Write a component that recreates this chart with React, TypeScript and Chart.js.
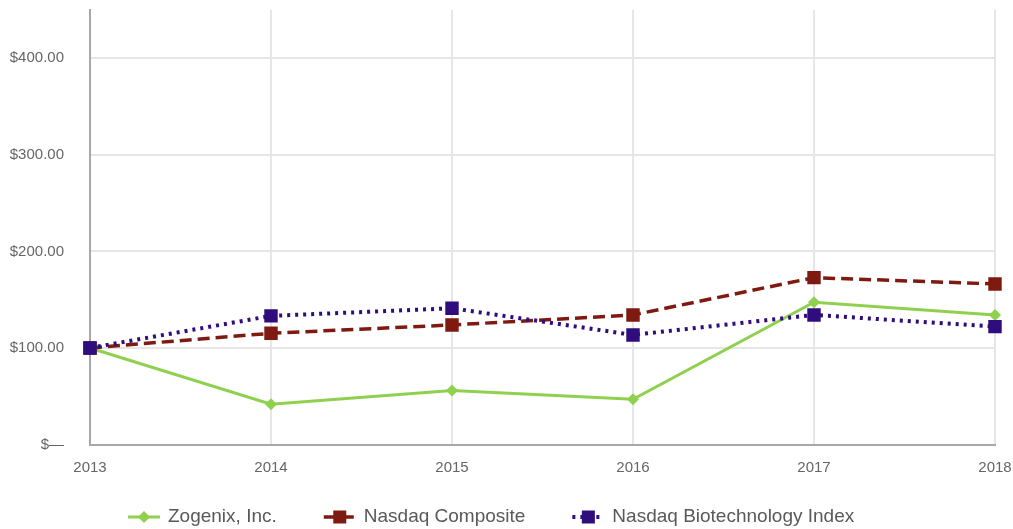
import React, { useEffect, useRef } from "react";
import { Chart, registerables } from "chart.js";

Chart.register(...registerables);

const years = ["2013", "2014", "2015", "2016", "2017", "2018"];
const zogenix = [100, 41.7, 55.8, 46.8, 147.4, 134.2];
const nasdaqComposite = [100, 115.2, 123.8, 134.2, 172.8, 166.3];
const nasdaqBiotech = [100, 133.2, 141.1, 113.5, 134.2, 122.1];
const yTickValues = [0, 100, 200, 300, 400];
const yTickLabels = ["$—", "$100.00", "$200.00", "$300.00", "$400.00"];
const seriesNames = ["Zogenix, Inc.", "Nasdaq Composite", "Nasdaq Biotechnology Index"];

const GREEN = "#8fd14f";
const RED = "#7f1a10";
const PURPLE = "#2f0d7c";
const FONT = "'Liberation Sans', Arial, sans-serif";

const legendPlugin = {
  id: "customLegend",
  afterDraw(chart: any) {
    const ctx = chart.ctx as CanvasRenderingContext2D;
    const y = 517;
    let x = 128;
    const markerW = 32;
    ctx.save();
    ctx.font = `19px ${FONT}`;
    ctx.textBaseline = "middle";
    ctx.textAlign = "left";
    chart.data.datasets.forEach((d: any) => {
      const cx = x + markerW / 2;
      ctx.save();
      ctx.strokeStyle = d.borderColor;
      ctx.lineWidth = d.borderWidth;
      ctx.setLineDash(d.borderDash || []);
      ctx.beginPath();
      ctx.moveTo(x, y);
      ctx.lineTo(x + markerW, y);
      ctx.stroke();
      ctx.setLineDash([]);
      ctx.fillStyle = d.pointBackgroundColor;
      if (d.pointStyle === "rectRot") {
        const r = 6;
        ctx.beginPath();
        ctx.moveTo(cx, y - r);
        ctx.lineTo(cx + r, y);
        ctx.lineTo(cx, y + r);
        ctx.lineTo(cx - r, y);
        ctx.closePath();
        ctx.fill();
      } else {
        const s = 13;
        ctx.fillRect(cx - s / 2, y - s / 2, s, s);
      }
      ctx.restore();
      ctx.fillStyle = "#595959";
      const label = d.label as string;
      ctx.fillText(label, x + markerW + 8, y);
      x += markerW + 8 + ctx.measureText(label).width + 47;
    });
    ctx.restore();
  },
};

const zeroPadding = (scale: any) => {
  scale.paddingTop = 0;
  scale.paddingBottom = 0;
  scale.paddingLeft = 0;
  scale.paddingRight = 0;
};

export default function App() {
  const canvasRef = useRef<HTMLCanvasElement | null>(null);

  useEffect(() => {
    document.body.style.margin = "0";
    const canvas = canvasRef.current;
    if (!canvas) return;
    const chart = new Chart(canvas, {
      type: "line",
      data: {
        labels: years,
        datasets: [
          {
            label: seriesNames[0],
            data: zogenix,
            borderColor: GREEN,
            backgroundColor: GREEN,
            pointBackgroundColor: GREEN,
            pointBorderColor: GREEN,
            borderWidth: 3,
            pointStyle: "rectRot",
            pointRadius: 6,
            pointBorderWidth: 0,
            tension: 0,
            order: 2,
          },
          {
            label: seriesNames[1],
            data: nasdaqComposite,
            borderColor: RED,
            backgroundColor: RED,
            pointBackgroundColor: RED,
            pointBorderColor: RED,
            borderWidth: 3.5,
            borderDash: [12, 6],
            pointStyle: "rect",
            pointRadius: 9.5,
            pointBorderWidth: 0,
            tension: 0,
            order: 1,
          },
          {
            label: seriesNames[2],
            data: nasdaqBiotech,
            borderColor: PURPLE,
            backgroundColor: PURPLE,
            pointBackgroundColor: PURPLE,
            pointBorderColor: PURPLE,
            borderWidth: 4,
            borderDash: [3, 5],
            pointStyle: "rect",
            pointRadius: 9.5,
            pointBorderWidth: 0,
            tension: 0,
            order: 0,
          },
        ],
      },
      options: {
        animation: false,
        responsive: true,
        maintainAspectRatio: false,
        layout: { padding: { top: 10, right: 18, bottom: 44.5, left: 0 } },
        plugins: {
          legend: { display: false },
          tooltip: { enabled: false },
        },
        scales: {
          x: {
            type: "category",
            offset: false,
            afterFit: (scale: any) => {
              scale.height = 40;
              zeroPadding(scale);
            },
            grid: { color: "#e6e6e6", lineWidth: 2, drawTicks: false },
            border: { display: true, color: "#a8a8a8", width: 2 },
            ticks: {
              color: "#666666",
              font: { family: FONT, size: 15 },
              padding: 14,
              maxRotation: 0,
              autoSkip: false,
            },
          },
          y: {
            min: 0,
            max: 450,
            afterFit: (scale: any) => {
              scale.width = 90;
              zeroPadding(scale);
            },
            afterBuildTicks: (scale: any) => {
              scale.ticks = yTickValues.map((v) => ({ value: v }));
            },
            grid: {
              color: (c: any) => (c.tick && c.tick.value === 0 ? "rgba(0,0,0,0)" : "#e6e6e6"),
              lineWidth: 2,
              drawTicks: false,
            },
            border: { display: true, color: "#a8a8a8", width: 2 },
            ticks: {
              color: "#666666",
              font: { family: FONT, size: 15 },
              padding: 26,
              callback: (value: any) => {
                const idx = yTickValues.indexOf(Number(value));
                return idx >= 0 ? yTickLabels[idx] : "";
              },
            },
          },
        },
      },
      plugins: [legendPlugin],
    });
    return () => chart.destroy();
  }, []);

  return (
    <div style={{ width: 1013, height: 529, position: "relative" }}>
      <canvas ref={canvasRef} />
    </div>
  );
}
